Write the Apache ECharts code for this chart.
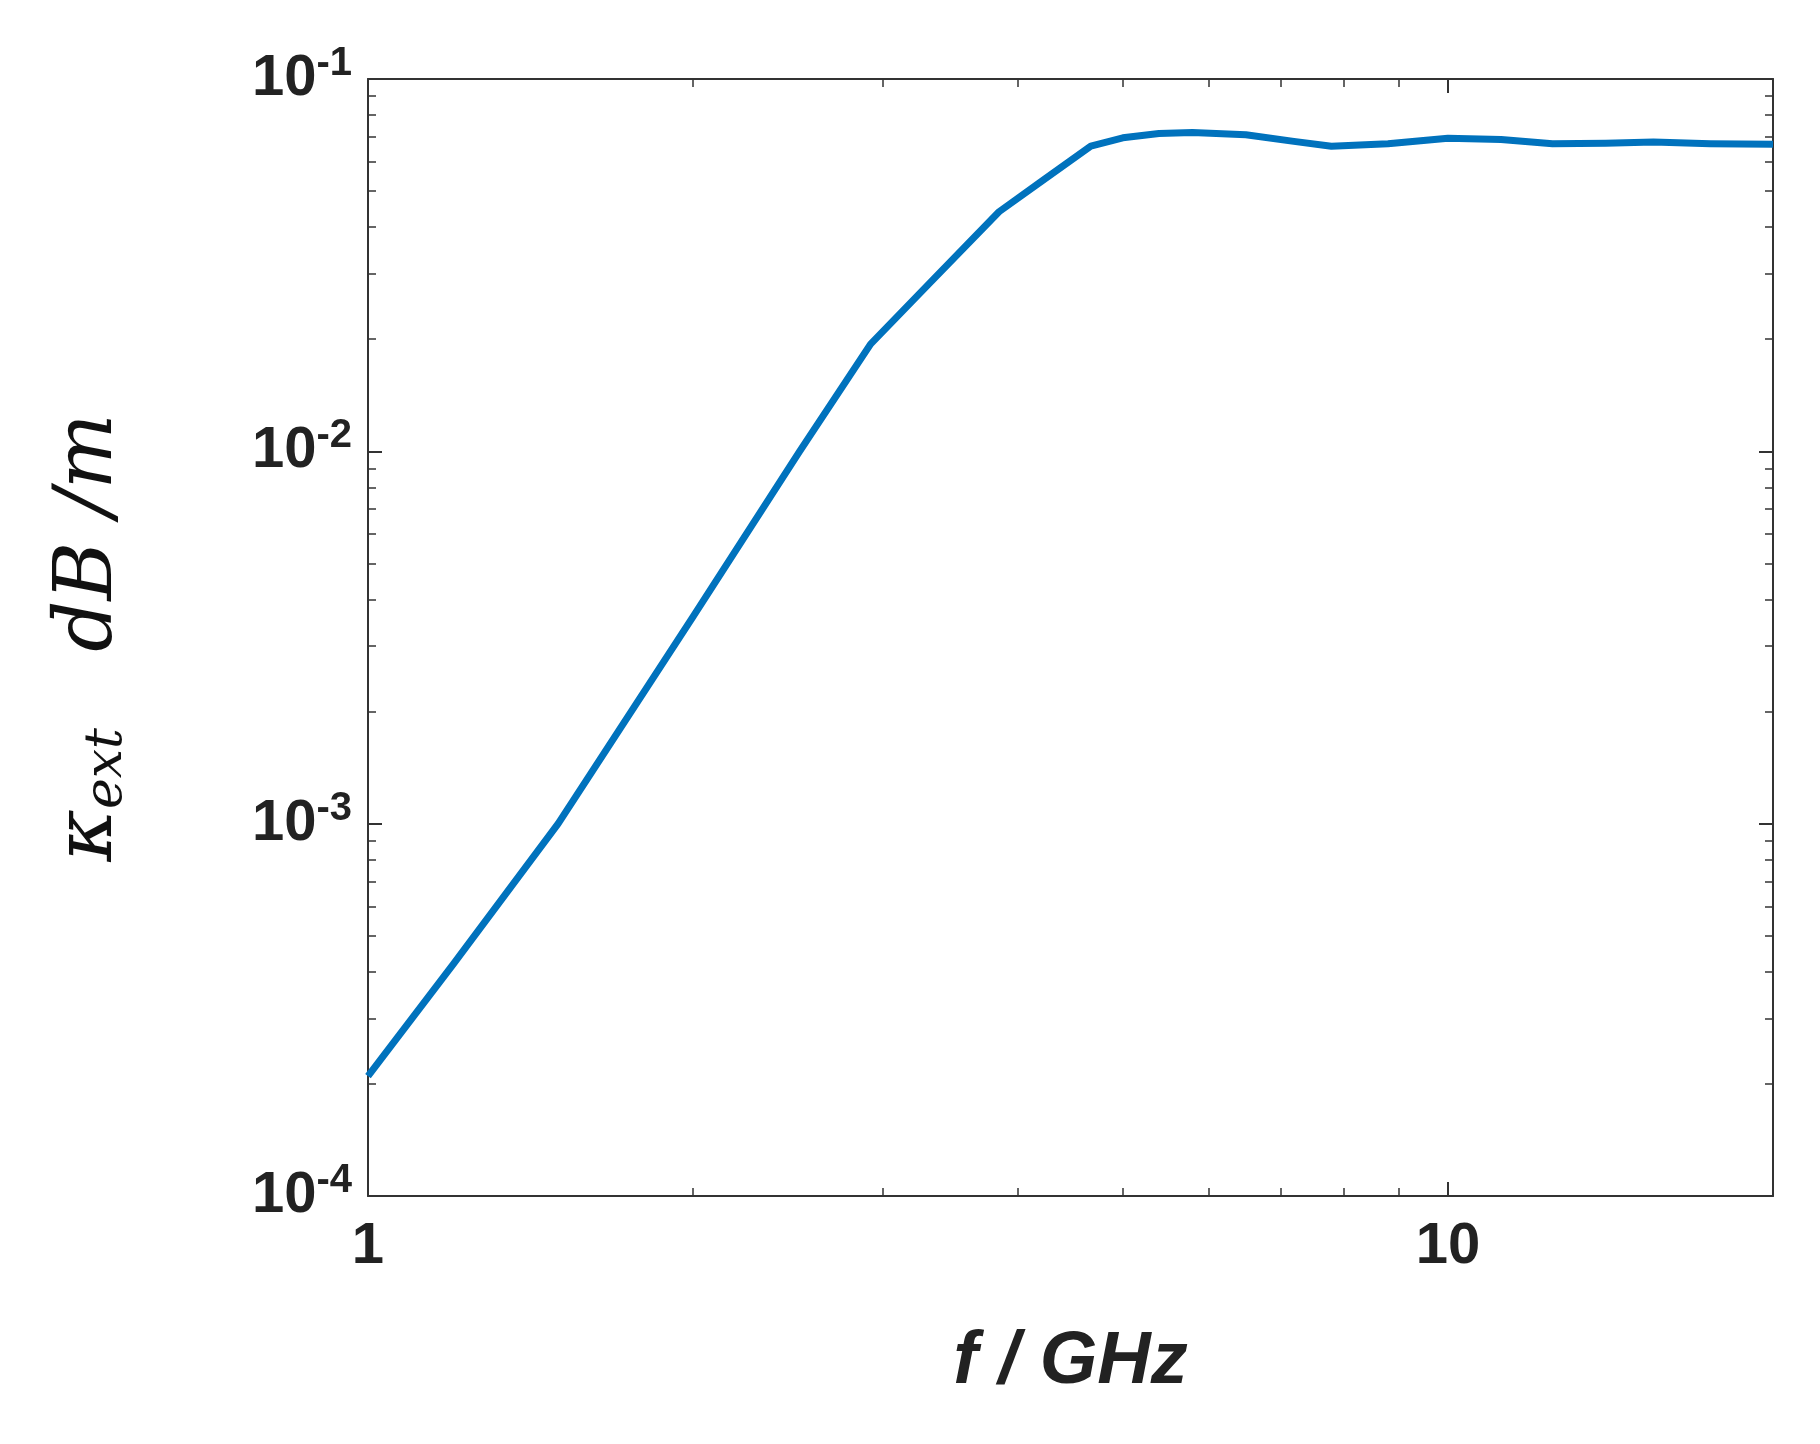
<!DOCTYPE html>
<html>
<head>
<meta charset="utf-8">
<script src="https://cdn.jsdelivr.net/npm/echarts@6/dist/echarts.min.js"></script>
<style>html,body{margin:0;padding:0;background:#fff}#chart{width:1820px;height:1444px}</style>
</head>
<body>
<div id="chart"></div>
<script>
var freq = [1, 1.2, 1.5, 2.0, 2.51, 2.92, 3.3, 3.84, 4.2, 4.67, 5.0, 5.4, 5.8, 6.5, 7.2, 7.8, 8.8, 10, 11.2, 12.5, 14, 15.5, 17.5, 20];
var kext = [2.1e-4, 4.2e-4, 1.0e-3, 3.6e-3, 1.0e-2, 0.0194, 0.028, 0.044, 0.053, 0.066, 0.0695, 0.0714, 0.0718, 0.0708, 0.0680, 0.0660, 0.0670, 0.0693, 0.0688, 0.0670, 0.0672, 0.0677, 0.0670, 0.0668];

var myChart = echarts.init(document.getElementById('chart'));
var tickFont = { fontFamily: 'Liberation Sans', fontWeight: 'bold', fontSize: 58, color: '#222' };
var option = {
    animation: false,
    grid: { left: 368, right: 47, top: 79, bottom: 248 },
    xAxis: [{
        type: 'log', min: 1, max: 20, logBase: 10,
        axisLine: { lineStyle: { color: '#333', width: 2 } },
        axisTick: { inside: true, length: 14, lineStyle: { color: '#333', width: 2 } },
        minorTick: { show: true, splitNumber: 9, length: 8, lineStyle: { color: '#333', width: 1.5 } },
        splitLine: { show: false },
        axisLabel: Object.assign({ margin: 22, formatter: function (v) { return (v === 1 || v === 10) ? String(v) : ''; } }, tickFont),
        name: 'f / GHz', nameLocation: 'middle', nameGap: 130,
        nameTextStyle: { fontFamily: 'Liberation Sans', fontWeight: 'bold', fontStyle: 'italic', fontSize: 74, color: '#222' }
    }, {
        type: 'log', min: 1, max: 20, position: 'top',
        axisLine: { lineStyle: { color: '#333', width: 2 } },
        axisTick: { inside: true, length: 14, lineStyle: { color: '#333', width: 2 } },
        minorTick: { show: true, splitNumber: 9, length: 8, lineStyle: { color: '#333', width: 1.5 } },
        axisLabel: { show: false }, splitLine: { show: false }
    }],
    yAxis: [{
        type: 'log', min: 1e-4, max: 1e-1,
        axisLine: { lineStyle: { color: '#333', width: 2 } },
        axisTick: { inside: true, length: 14, lineStyle: { color: '#333', width: 2 } },
        minorTick: { show: true, splitNumber: 9, length: 8, lineStyle: { color: '#333', width: 1.5 } },
        splitLine: { show: false },
        axisLabel: {
            margin: 16,
            formatter: function (v) {
                var e = Math.round(Math.log10(v));
                return '{b|10}{s|' + e + '}';
            },
            rich: {
                b: tickFont,
                s: { fontFamily: 'Liberation Sans', fontWeight: 'bold', fontSize: 40, color: '#222', verticalAlign: 'top', padding: [0, 0, 30, 0] }
            }
        },
        name: '{k|κ}{sub|ext}{k|   dB /m}', nameLocation: 'middle', nameGap: 235, nameRotate: 90,
        nameTextStyle: {
            rich: {
                k: { fontFamily: 'DejaVu Serif', fontStyle: 'italic', fontSize: 80, color: '#111' },
                sub: { fontFamily: 'DejaVu Serif', fontStyle: 'italic', fontSize: 52, color: '#111', padding: [34, 0, 0, 0] }
            }
        }
    }, {
        type: 'log', min: 1e-4, max: 1e-1, position: 'right',
        axisLine: { lineStyle: { color: '#333', width: 2 } },
        axisTick: { inside: true, length: 14, lineStyle: { color: '#333', width: 2 } },
        minorTick: { show: true, splitNumber: 9, length: 8, lineStyle: { color: '#333', width: 1.5 } },
        axisLabel: { show: false }, splitLine: { show: false }
    }],
    series: [{
        type: 'line',
        smooth: false,
        showSymbol: false,
        lineStyle: { color: '#0072BD', width: 7, join: 'round' },
        data: freq.map(function (f, i) { return [f, kext[i]]; })
    }]
};
myChart.setOption(option);
</script>
</body>
</html>
